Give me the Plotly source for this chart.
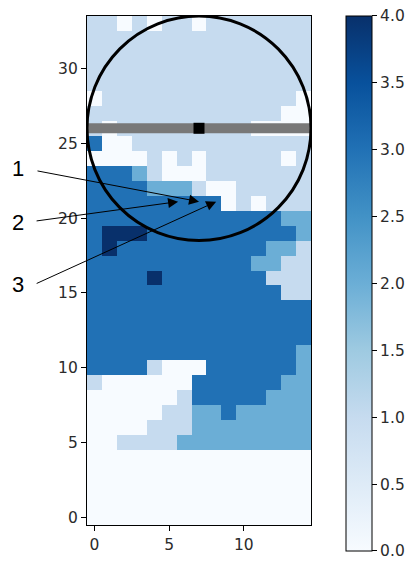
import plotly.graph_objects as go

# grid values, listed from top row (y=33) to bottom row (y=0); columns x=0..14
row_33 = [1, 1, 0, 1, 0, 1, 1, 0, 1, 1, 1, 1, 1, 1, 1]
row_32 = [1] * 15
row_31 = [1] * 15
row_30 = [1] * 15
row_29 = [1] * 15
row_28 = [0, 1, 1, 1, 1, 1, 1, 1, 1, 1, 1, 1, 1, 1, 0]
row_27 = [1, 1, 1, 1, 1, 1, 1, 1, 1, 1, 1, 1, 1, 0, 0]
row_26 = [1, 0, 1, 1, 1, 1, 1, 1, 1, 1, 1, 0, 0, 0, 0]
row_25 = [3, 0, 0, 1, 1, 1, 1, 1, 1, 1, 1, 1, 1, 1, 1]
row_24 = [0, 0, 0, 0, 1, 0, 1, 0, 1, 1, 1, 1, 1, 0, 1]
row_23 = [3, 3, 3, 2, 1, 0, 0, 0, 1, 1, 1, 1, 1, 1, 1]
row_22 = [3, 3, 3, 3, 2, 2, 2, 1, 0, 0, 1, 1, 1, 1, 1]
row_21 = [3, 3, 3, 3, 3, 3, 3, 3, 3, 0, 1, 0, 1, 1, 1]
row_20 = [3, 3, 3, 3, 3, 3, 3, 3, 3, 3, 3, 3, 3, 2, 2]
row_19 = [3, 4, 4, 4, 3, 3, 3, 3, 3, 3, 3, 3, 3, 3, 2]
row_18 = [3, 4, 3, 3, 3, 3, 3, 3, 3, 3, 3, 3, 2, 2, 1]
row_17 = [3, 3, 3, 3, 3, 3, 3, 3, 3, 3, 3, 2, 2, 1, 1]
row_16 = [3, 3, 3, 3, 4, 3, 3, 3, 3, 3, 3, 3, 1, 1, 1]
row_15 = [3, 3, 3, 3, 3, 3, 3, 3, 3, 3, 3, 3, 3, 1, 1]
row_14 = [3] * 15
row_13 = [3] * 15
row_12 = [3] * 15
row_11 = [3] * 14 + [2]
row_10 = [3, 3, 3, 3, 1, 0, 0, 0, 3, 3, 3, 3, 3, 3, 2]
row_9 = [1, 0, 0, 0, 0, 0, 0, 3, 3, 3, 3, 3, 3, 2, 2]
row_8 = [0, 0, 0, 0, 0, 0, 1, 3, 3, 3, 3, 3, 2, 2, 2]
row_7 = [0, 0, 0, 0, 0, 1, 1, 2, 2, 3, 2, 2, 2, 2, 2]
row_6 = [0, 0, 0, 0, 1, 1, 1, 2, 2, 2, 2, 2, 2, 2, 2]
row_5 = [0, 0, 1, 1, 1, 1, 2, 2, 2, 2, 2, 2, 2, 2, 2]
row_4 = [0] * 15
row_3 = [0] * 15
row_2 = [0] * 15
row_1 = [0] * 15
row_0 = [0] * 15

rows_top_down = [row_33, row_32, row_31, row_30, row_29, row_28, row_27, row_26,
                 row_25, row_24, row_23, row_22, row_21, row_20, row_19, row_18,
                 row_17, row_16, row_15, row_14, row_13, row_12, row_11, row_10,
                 row_9, row_8, row_7, row_6, row_5, row_4, row_3, row_2, row_1, row_0]

x_cols = list(range(15))
y_rows = list(range(34))
z = rows_top_down[::-1]

# overlay elements
scan_line_y = 26
scan_line_x = [-0.5, 14.5]
center_x = 7
center_y = 26
circle_radius = 7.5

# arrow targets and labels
arrow_labels = ["1", "2", "3"]
arrow_x = [7.0, 5.6, 8.15]
arrow_y = [21.1, 21.1, 21.1]

colorbar_ticks = [0, 0.5, 1, 1.5, 2, 2.5, 3, 3.5, 4]

blues = [[0.0, "rgb(247,251,255)"], [0.125, "rgb(222,235,247)"], [0.25, "rgb(198,219,239)"],
         [0.375, "rgb(158,202,225)"], [0.5, "rgb(107,174,214)"], [0.625, "rgb(66,146,198)"],
         [0.75, "rgb(33,113,181)"], [0.875, "rgb(8,81,156)"], [1.0, "rgb(8,48,107)"]]

font = dict(family="DejaVu Sans", size=15.5, color="#2b2b2b")

fig = go.Figure()
fig.add_trace(go.Heatmap(
    x=x_cols, y=y_rows, z=z, zmin=0, zmax=4, colorscale=blues,
    colorbar=dict(
        x=1.156, xanchor="left", xpad=0, y=0.4745, yanchor="middle", ypad=0,
        thickness=26, lenmode="pixels", len=535,
        outlinewidth=1, outlinecolor="black",
        tickvals=colorbar_ticks, tickformat=".1f", ticklabeloverflow="allow",
        ticks="outside", ticklen=5, tickcolor="black", tickfont=font,
    ),
    hoverinfo="skip",
))
fig.add_trace(go.Scatter(
    x=scan_line_x, y=[scan_line_y, scan_line_y], mode="lines",
    line=dict(color="rgb(120,120,120)", width=10), showlegend=False, hoverinfo="skip",
))
fig.add_trace(go.Scatter(
    x=[center_x], y=[center_y], mode="markers",
    marker=dict(symbol="square", size=11, color="black"), showlegend=False, hoverinfo="skip",
))

fig.add_shape(type="circle", xref="x", yref="y",
              x0=center_x - circle_radius, x1=center_x + circle_radius,
              y0=center_y - circle_radius, y1=center_y + circle_radius,
              line=dict(color="black", width=3), layer="above")

tails = [(-163, -31), (-143, 19.5), (-181, 82.5)]
label_y_paper = [0.701, 0.595, 0.473]
for lab, ax_, ay_, (tx, ty), ly in zip(arrow_labels, arrow_x, arrow_y, tails, label_y_paper):
    fig.add_annotation(x=ax_, y=ay_, xref="x", yref="y", text="", showarrow=True,
                       ax=tx, ay=ty, arrowhead=2, arrowsize=2, arrowwidth=1,
                       arrowcolor="black", standoff=0)
    fig.add_annotation(x=-0.308, y=ly, xref="paper", yref="paper", text=lab,
                       showarrow=False, xanchor="center", yanchor="middle",
                       font=dict(family="Liberation Sans", size=22, color="black"))

fig.update_xaxes(range=[-0.5, 14.5], tickvals=[0, 5, 10], ticks="outside", ticklen=5,
                 tickcolor="black", showline=True, linecolor="black", linewidth=1.2,
                 mirror=True, showgrid=False, zeroline=False, tickfont=font)
fig.update_yaxes(range=[-0.5, 33.5], tickvals=[0, 5, 10, 15, 20, 25, 30], ticks="outside",
                 ticklen=5, tickcolor="black", showline=True, linecolor="black",
                 linewidth=1.2, mirror=True, showgrid=False, zeroline=False, tickfont=font)

# the page body adds an 8px offset, so the figure is sized to fit the window after it
fig.update_layout(width=409, height=553,
                  margin=dict(l=79, r=106, t=8, b=36, autoexpand=False),
                  plot_bgcolor="white", paper_bgcolor="white", showlegend=False)

fig.write_html("out.html")
